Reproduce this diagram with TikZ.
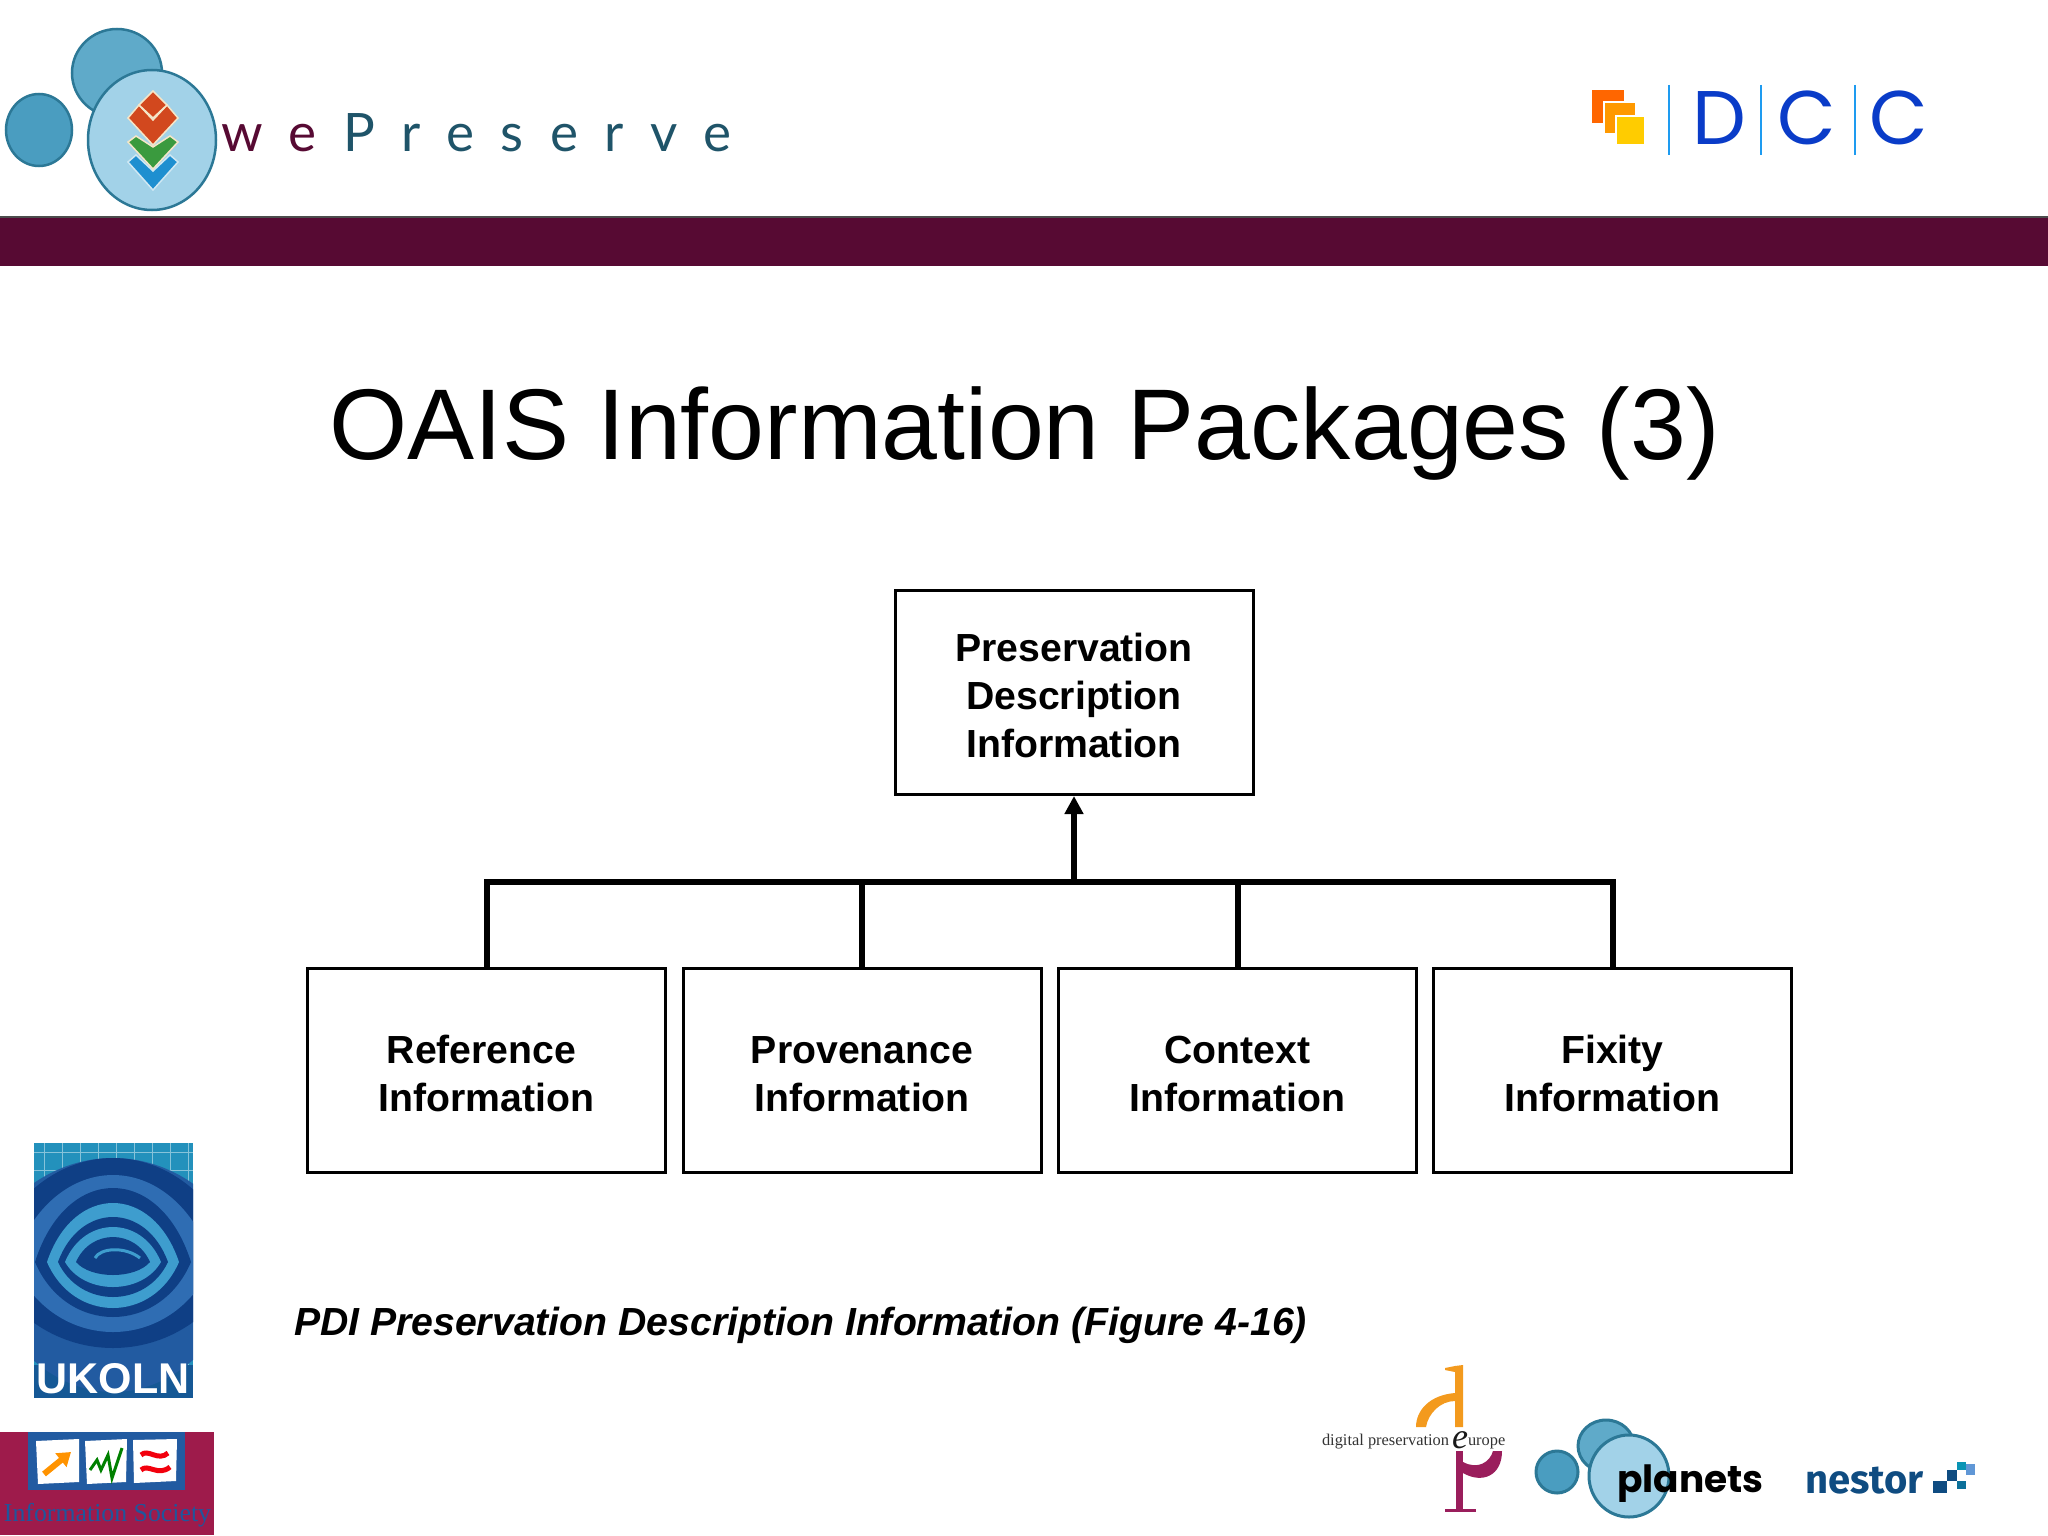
\documentclass[tikz,border=0pt]{standalone}
\usepackage{fontspec}
\setmainfont{Liberation Sans}
\usetikzlibrary{arrows.meta,calc}
\newfontfamily\logofont[LetterSpace=50]{Lato}
\newfontfamily\dccfont{Poppins}
\newfontfamily\serfont{Liberation Serif}
\newfontfamily\planfont{Poppins}
\newfontfamily\nesfont{Fira Sans}
\definecolor{barcol}{HTML}{570A33}
\definecolor{logoA}{HTML}{4A9DC0}
\definecolor{logoB}{HTML}{5FAAC9}
\definecolor{logoC}{HTML}{A2D2E8}
\definecolor{logoE}{HTML}{2C7896}
\definecolor{navy}{HTML}{0F3F85}
\definecolor{lblue}{HTML}{3E9DCE}
\definecolor{mblue}{HTML}{2F6DB3}
\definecolor{teal}{HTML}{2391BC}
\definecolor{dccblue}{HTML}{0A3CC8}
\definecolor{dccline}{HTML}{1E9BF0}
\definecolor{dccA}{HTML}{FF6600}
\definecolor{dccB}{HTML}{FF9900}
\definecolor{dccC}{HTML}{FFCC00}
\definecolor{crim}{HTML}{9E1B4B}
\definecolor{nesblue}{HTML}{0F4C81}
\definecolor{wered}{HTML}{D2481E}
\definecolor{wegreen}{HTML}{3A9A3E}
\definecolor{weblue}{HTML}{1E8FD0}
\definecolor{cream}{HTML}{F5E6C8}
\definecolor{dpor}{HTML}{F39A1E}
\definecolor{dpmu}{HTML}{9A1E5C}
\tikzset{
  infobox/.style={draw=black,line width=3pt,fill=white,minimum width=358pt,minimum height=204pt,align=center,inner sep=0pt,font=\bfseries\fontsize{39.2}{48}\selectfont},
  conn/.style={draw=black,line width=6pt,line cap=butt,line join=miter},
  plain/.style={inner sep=0pt,outer sep=0pt},
}
\newcommand{\upstrut}{\rule{0pt}{33.5pt}}
% lens: colour, half width, top y, bottom y, centre x, centre y
\newcommand{\ulens}[6]{%
  \pgfmathsetmacro{\lt}{#6-(#6-#3)*4/3}%
  \pgfmathsetmacro{\lb}{#6+(#4-#6)*4/3}%
  \pgfmathsetmacro{\lxa}{#5-#2}\pgfmathsetmacro{\lxb}{#5+#2}%
  \pgfmathsetmacro{\lca}{#5-#2*0.6}\pgfmathsetmacro{\lcb}{#5+#2*0.6}%
  \fill[#1] (\lxa,#6) .. controls (\lca,\lt) and (\lcb,\lt) .. (\lxb,#6) .. controls (\lcb,\lb) and (\lca,\lb) .. (\lxa,#6) -- cycle;}
\begin{document}
\begin{tikzpicture}[x=1pt,y=-1pt]
\useasboundingbox (0,0) rectangle (2048,1536);
\fill[white] (0,0) rectangle (2048,1536);
% header bar
\fill[barcol] (0,217) rectangle (2048,266);
\fill[black!70] (0,215.5) rectangle (2048,218);
% wePreserve logo
\draw[fill=logoA,draw=logoE,line width=2.5pt] (39,130) ellipse [x radius=33,y radius=36];
\draw[fill=logoB,draw=logoE,line width=2.5pt] (117,73) ellipse [x radius=45,y radius=44];
\draw[fill=logoC,draw=logoE,line width=2.5pt] (152,140) ellipse [x radius=64,y radius=70];
\fill[weblue,draw=logoC!50!white,line width=1.5pt] (153,171) -- (170,155) -- (178,162) -- (153,190) -- (128,162) -- (136,155) -- cycle;
\fill[wegreen,draw=cream,line width=1.5pt] (153,147) -- (170,136) -- (178,142) -- (153,169) -- (128,142) -- (136,136) -- cycle;
\fill[wered,draw=cream,line width=1.5pt] (153,120) -- (167,105) -- (178,118) -- (153,145) -- (128,118) -- (139,105) -- cycle;
\fill[wered,draw=cream,line width=1.5pt] (153,91) -- (167,105) -- (153,118) -- (139,105) -- cycle;
\node[plain,anchor=base west,font=\logofont\fontsize{53}{53}\selectfont,text=logoE!70!black] (wep) at (221,151) {\textcolor{barcol}{we}\kern 27pt Preserve};
% DCC logo
\fill[dccA] (1592,90) rectangle (1624,123);
\fill[dccB,draw=white,line width=1.5pt] (1604,102) rectangle (1636,134);
\fill[dccC,draw=white,line width=1.5pt] (1616,116) rectangle (1645,145);
\draw[dccline,line width=1.5pt] (1669,85) -- (1669,155);
\draw[dccline,line width=1.5pt] (1761,85) -- (1761,155);
\draw[dccline,line width=1.5pt] (1855,85) -- (1855,155);
\node[plain,anchor=base,font=\dccfont\fontsize{76}{76}\selectfont,text=dccblue] (dccd) at (1719,145) {D};
\node[plain,anchor=base,font=\dccfont\fontsize{76}{76}\selectfont,text=dccblue] (dcca) at (1807,145) {C};
\node[plain,anchor=base,font=\dccfont\fontsize{76}{76}\selectfont,text=dccblue] (dccb) at (1899,145) {C};
% title
\node[plain,anchor=base,font=\fontsize{100.5}{100}\selectfont] (title) at (1024.5,459) {OAIS Information Packages (3)};
% boxes
\node[infobox] (top) at (1074,692.5) {\upstrut Preservation\\Description\\Information};
\node[infobox] (ref) at (486.5,1070.5) {\upstrut Reference\hspace*{10pt}\\Information};
\node[infobox] (prov) at (862,1070.5) {\upstrut Provenance\\Information};
\node[infobox] (ctx) at (1237.5,1070.5) {\upstrut Context\\Information};
\node[infobox] (fix) at (1612.5,1070.5) {\upstrut Fixity\\Information};
\coordinate (junction) at (1074,882);
\draw[conn] (ref.north) |- (junction);
\draw[conn] (fix.north) |- (junction);
\draw[conn] (prov.north) -- (prov.north |- junction);
\draw[conn] (ctx.north) -- (ctx.north |- junction);
\draw[conn,-{Triangle[width=18pt,length=18pt]}] (junction) -- (top.south);
% caption
\node[plain,anchor=base west,font=\bfseries\itshape\fontsize{39.2}{48}\selectfont] (capt) at (294,1335) {PDI Preservation Description Information (Figure 4-16)};
% UKOLN logo
\begin{scope}
\clip (34,1143) rectangle (193,1398);
\fill[teal] (34,1143) rectangle (193,1398);
\foreach \gx in {44,62,80,98,116,134,152,170,188}{\draw[white!45!teal,line width=1pt] (\gx,1143) -- (\gx,1398);}
\foreach \gy in {1152,1170,1188,1340,1358,1376,1394}{\draw[white!45!teal,line width=1pt] (34,\gy) -- (193,\gy);}
\fill[navy!70!teal] (34,1365) rectangle (193,1398);
\ulens{mblue!60!navy}{140}{1158}{1392}{113}{1262}
\ulens{navy}{128}{1158}{1348}{113}{1262}
\ulens{mblue}{100}{1175}{1332}{113}{1262}
\ulens{navy}{78}{1188}{1317}{113}{1262}
\ulens{lblue}{66}{1203}{1308}{113}{1262}
\ulens{navy}{55}{1217}{1297}{113}{1262}
\ulens{lblue}{48}{1227}{1287}{113}{1262}
\ulens{navy}{37}{1237}{1275}{113}{1262}
\draw[lblue,line width=3pt] (95,1258) .. controls (100,1248) and (125,1246) .. (140,1258);
\end{scope}
\node[plain,anchor=base,font=\bfseries\fontsize{43}{43}\selectfont,text=white] (ukoln) at (113,1393) {UKOLN};
% Information Society logo
\fill[crim] (0,1432) rectangle (214,1535);
\fill[mblue!60!navy] (28,1432) rectangle (185,1490);
\fill[white] (36,1441) -- (79,1439) -- (79,1482) -- (38,1484) -- cycle;
\fill[white] (85,1441) -- (127,1439) -- (126,1482) -- (87,1484) -- cycle;
\fill[white] (133,1440) -- (177,1439) -- (176,1481) -- (134,1483) -- cycle;
\draw[orange!85!yellow,line width=6pt,-{Triangle[width=17pt,length=13pt]}] (44,1474) -- (71,1452);
\draw[green!50!black,line width=3pt] (90,1470) -- (97,1460) -- (101,1470) -- (108,1455) -- (112,1478) -- (122,1448);
\draw[red!80!purple,line width=5pt] (141,1455) .. controls (148,1448) and (158,1462) .. (168,1453);
\draw[red!80!purple,line width=5pt] (141,1470) .. controls (148,1463) and (158,1477) .. (170,1467);
\node[plain,anchor=base west,font=\serfont\fontsize{25.8}{26}\selectfont,text=mblue!50!navy] (infosoc) at (4,1521) {Information Society};
% digital preservation europe logo
\fill[dpor] (1445,1368) -- (1455,1366) -- (1463,1365) -- (1463,1427) -- (1455,1427) -- (1455,1372) -- (1445,1370) -- cycle;
\fill[dpor] (1455,1393) .. controls (1430,1395) and (1416,1410) .. (1416,1427) -- (1426,1427) .. controls (1428,1414) and (1440,1401) .. (1455,1401) -- cycle;
\node[plain,anchor=base west,font=\serfont\fontsize{16.4}{17}\selectfont,text=black!80] (dpe) at (1322,1445) {digital preservation};
\node[plain,anchor=base west,font=\serfont\itshape\fontsize{36}{36}\selectfont,text=black!90] (dpeE) at (1452,1448) {e};
\node[plain,anchor=base west,font=\serfont\fontsize{16.4}{17}\selectfont,text=black!80] (dpeU) at (1468,1445) {urope};
\fill[dpmu] (1456,1451) rectangle (1463,1512);
\fill[dpmu] (1445,1509) rectangle (1476,1512);
\fill[dpmu] (1463,1473) .. controls (1482,1484) and (1502,1476) .. (1502,1451) -- (1493,1451) .. controls (1490,1462) and (1478,1470) .. (1463,1462) -- cycle;
% planets logo
\draw[fill=logoA,draw=logoE,line width=3pt] (1557,1472) ellipse [x radius=21,y radius=21];
\draw[fill=logoB,draw=logoE,line width=3pt] (1606,1446) ellipse [x radius=28,y radius=26];
\draw[fill=logoC,draw=logoE,line width=3pt] (1629,1476) ellipse [x radius=40,y radius=41];
\node[plain,anchor=base west,font=\planfont\bfseries\fontsize{37.5}{38}\selectfont,text=black] (planets) at (1617,1492) {planets};
% nestor logo
\node[plain,anchor=base west,font=\nesfont\bfseries\fontsize{40}{40}\selectfont,text=nesblue] (nestor) at (1805,1493) {nestor};
\fill[nesblue] (1933,1481) rectangle (1947,1493);
\fill[nesblue] (1947,1470) rectangle (1957,1481);
\fill[nesblue!80!cyan] (1957,1481) rectangle (1966,1489);
\fill[nesblue!60!cyan] (1957,1462) rectangle (1966,1470);
\fill[cyan!50!white!70!blue] (1966,1464) rectangle (1975,1475);
\end{tikzpicture}
\end{document}
